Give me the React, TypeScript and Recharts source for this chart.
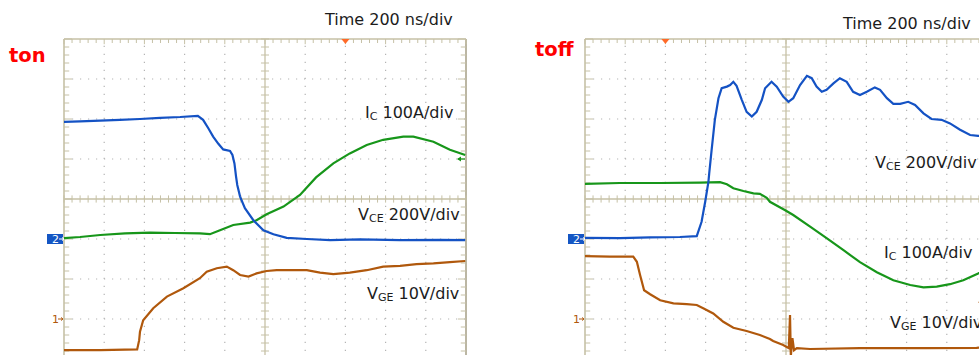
import React from 'react';
import { LineChart, Line, XAxis, YAxis, ReferenceLine, ReferenceDot } from 'recharts';

// ---- Data (time in divisions of 200 ns, amplitude in screen divisions, 0 = centre line) ----
// Turn-on (ton)
const tonVceTime = [0, 0.4, 0.9, 1.39, 1.89, 2.39, 2.89, 3.33, 3.46, 3.59, 3.71, 3.84, 3.96, 4.13, 4.19, 4.24, 4.28, 4.31, 4.38, 4.5, 4.71, 4.96, 5.21, 5.54, 6.04, 6.62, 7.36, 8.36, 9.35, 9.98];
const tonVceDiv = [1.93, 1.94, 1.96, 1.98, 2.0, 2.03, 2.05, 2.08, 1.98, 1.77, 1.56, 1.38, 1.24, 1.2, 1.1, 0.89, 0.56, 0.35, 0.06, -0.23, -0.53, -0.78, -0.88, -0.97, -1.0, -1.03, -1.01, -1.03, -1.02, -1.03];
const tonIcTime = [0, 0.4, 0.9, 1.52, 2.14, 2.76, 3.38, 3.63, 3.88, 4.21, 4.63, 4.79, 5.04, 5.46, 5.87, 6.27, 6.7, 7.11, 7.53, 7.94, 8.44, 8.69, 9.19, 9.6, 9.98];
const tonIcDiv = [-0.98, -0.95, -0.9, -0.86, -0.84, -0.85, -0.86, -0.88, -0.78, -0.65, -0.59, -0.53, -0.38, -0.19, 0.1, 0.54, 0.89, 1.14, 1.35, 1.48, 1.56, 1.56, 1.43, 1.23, 1.1];
const tonVgeTime = [0, 0.9, 1.82, 1.87, 1.89, 1.97, 2.22, 2.56, 2.97, 3.38, 3.55, 3.8, 4.05, 4.21, 4.38, 4.59, 4.79, 5.04, 5.29, 5.7, 6.04, 6.37, 6.7, 7.11, 7.53, 7.94, 8.36, 8.77, 9.19, 9.6, 9.98];
const tonVgeDiv = [-3.78, -3.78, -3.76, -3.53, -3.32, -3.03, -2.73, -2.44, -2.23, -1.98, -1.82, -1.73, -1.69, -1.78, -1.9, -1.94, -1.86, -1.8, -1.78, -1.78, -1.78, -1.84, -1.88, -1.84, -1.78, -1.69, -1.67, -1.63, -1.61, -1.58, -1.55];

// Turn-off (toff)
const toffVceTime = [0, 0.87, 1.62, 2.36, 2.78, 2.9, 2.99, 3.07, 3.09, 3.15, 3.23, 3.32, 3.4, 3.53, 3.61, 3.69, 3.77, 3.9, 4.02, 4.15, 4.27, 4.4, 4.48, 4.64, 4.77, 4.93, 5.06, 5.18, 5.35, 5.52, 5.64, 5.76, 5.89, 6.01, 6.18, 6.34, 6.51, 6.67, 6.84, 7.01, 7.21, 7.34, 7.51, 7.67, 7.84, 8.04, 8.21, 8.42, 8.62, 8.87, 9.08, 9.33, 9.58, 9.78, 10];
const toffVceDiv = [-0.97, -0.98, -0.96, -0.95, -0.93, -0.57, -0.07, 0.43, 0.64, 1.23, 1.98, 2.52, 2.77, 2.81, 2.85, 2.93, 2.83, 2.48, 2.18, 2.06, 2.18, 2.48, 2.77, 2.93, 2.81, 2.56, 2.43, 2.52, 2.85, 3.08, 3.02, 2.81, 2.68, 2.73, 2.89, 3.02, 2.93, 2.68, 2.6, 2.68, 2.79, 2.73, 2.52, 2.38, 2.38, 2.43, 2.35, 2.14, 2.0, 1.98, 1.89, 1.73, 1.6, 1.58, 1.55];
const toffIcTime = [0, 0.87, 1.87, 2.86, 3.36, 3.53, 3.69, 3.94, 4.19, 4.35, 4.52, 4.6, 4.98, 5.18, 5.6, 6.01, 6.43, 6.84, 7.26, 7.67, 8.09, 8.42, 8.75, 9.08, 9.41, 9.78, 10];
const toffIcDiv = [0.38, 0.4, 0.4, 0.41, 0.42, 0.37, 0.27, 0.2, 0.14, 0.13, 0.03, -0.07, -0.28, -0.4, -0.69, -0.98, -1.28, -1.58, -1.83, -2.03, -2.15, -2.21, -2.19, -2.13, -2.03, -1.86, -1.73];
const toffVgeTime = [0, 0.62, 1.2, 1.29, 1.37, 1.47, 1.62, 1.87, 2.2, 2.53, 2.78, 2.94, 3.19, 3.44, 3.69, 4.02, 4.35, 4.6, 4.68, 4.93, 5.07, 5.1, 5.12, 5.16, 5.2, 5.27, 5.6, 6.84, 8.5, 9.74, 10];
const toffVgeDiv = [-1.43, -1.44, -1.44, -1.57, -1.9, -2.28, -2.38, -2.53, -2.61, -2.63, -2.65, -2.73, -2.86, -3.07, -3.22, -3.3, -3.4, -3.5, -3.55, -3.65, -3.73, -2.9, -3.93, -3.48, -3.78, -3.73, -3.75, -3.73, -3.73, -3.72, -3.71];

// Channel offset markers (screen divisions) and trigger positions
const markerLevels = [-3, -1];
const tonTrigger = 7;
const toffTrigger = 2;

const BLUE = '#1452c4';
const GREEN = '#17961a';
const BROWN = '#b0580c';
const GRAT = '#c6c1a6';
const DOT = '#b4b4b4';
const FONT = '"DejaVu Sans", Verdana, sans-serif';

const zip = (t: number[], v: number[]) => t.map((x, i) => ({ t: x, v: v[i] }));

const range = (a: number, b: number, step: number) => {
  const out: number[] = [];
  for (let i = 0; a + i * step <= b + 1e-9; i++) out.push(Math.round((a + i * step) * 100) / 100);
  return out;
};

const ChannelTick = (props: any) => {
  const { x, y, payload } = props;
  if (payload.value === -1) {
    return (
      <g>
        <rect x={x - 17} y={y - 5} width={16} height={10} fill="#1456c4" />
        <text x={x - 12} y={y + 4} fontSize={11} fill="#fff" fontFamily={FONT}>2</text>
        <line x1={x - 5} y1={y} x2={x - 1} y2={y} stroke="#fff" strokeWidth={1} />
        <path d={`M${x - 2},${y - 1.5} L${x},${y} L${x - 2},${y + 1.5}`} stroke="#fff" fill="none" strokeWidth={1} />
      </g>
    );
  }
  return (
    <g>
      <text x={x - 12} y={y + 4} fontSize={11} fill={BROWN} fontFamily={FONT}>1</text>
      <line x1={x - 6} y1={y} x2={x - 1} y2={y} stroke={BROWN} strokeWidth={1} />
      <path d={`M${x - 3},${y - 1.5} L${x - 1},${y} L${x - 3},${y + 1.5}`} stroke={BROWN} fill="none" strokeWidth={1} />
    </g>
  );
};

const Trigger = (props: any) => {
  const { cx, cy } = props;
  return <path d={`M${cx - 4},${cy} L${cx + 4},${cy} L${cx},${cy + 5} Z`} fill="#ff6a28" />;
};

const makeArrow = (color: string) => (props: any) => {
  const { cx, cy } = props;
  return (
    <g>
      <line x1={cx - 8} y1={cy} x2={cx - 1} y2={cy} stroke={color} strokeWidth={1.2} />
      <path d={`M${cx - 5},${cy - 2.5} L${cx - 9},${cy} L${cx - 5},${cy + 2.5} Z`} fill={color} />
    </g>
  );
};

function graticule() {
  const els: React.ReactNode[] = [];
  const minorX = range(0, 10, 0.2);
  const minorY = range(-4, 4, 0.2);
  // dotted major grid
  [1, 2, 3, 4, 6, 7, 8, 9].forEach((v) =>
    els.push(<ReferenceLine key={`gx${v}`} x={v} stroke={DOT} strokeWidth={1.2} strokeDasharray="1.2 6.8" />)
  );
  [-3, -2, -1, 1, 2, 3].forEach((v) =>
    els.push(<ReferenceLine key={`gy${v}`} y={v} stroke={DOT} strokeWidth={1.2} strokeDasharray="1.2 6.8" />)
  );
  // center cross
  els.push(<ReferenceLine key="cx" x={5} stroke={GRAT} strokeWidth={1.3} />);
  els.push(<ReferenceLine key="cy" y={0} stroke={GRAT} strokeWidth={1.3} />);
  // border
  els.push(<ReferenceLine key="bl" x={0} stroke={GRAT} strokeWidth={1.6} />);
  els.push(<ReferenceLine key="br" x={10} stroke="#aaa48c" strokeWidth={1.6} />);
  els.push(<ReferenceLine key="bt" y={4} stroke={GRAT} strokeWidth={1.6} />);
  els.push(<ReferenceLine key="bb" y={-4} stroke={GRAT} strokeWidth={1.6} />);
  // minor ticks
  minorX.forEach((v) => {
    const major = Math.abs(v - Math.round(v)) < 1e-6;
    els.push(<ReferenceLine key={`ch${v}`} segment={[{ x: v, y: -0.09 }, { x: v, y: 0.09 }]} stroke={GRAT} strokeWidth={1} />);
    els.push(<ReferenceLine key={`tt${v}`} segment={[{ x: v, y: 4 }, { x: v, y: major ? 3.87 : 3.9 }]} stroke={GRAT} strokeWidth={1} />);
  });
  minorY.forEach((v) => {
    const major = Math.abs(v - Math.round(v)) < 1e-6;
    els.push(<ReferenceLine key={`cv${v}`} segment={[{ x: 4.9, y: v }, { x: 5.1, y: v }]} stroke={GRAT} strokeWidth={1} />);
    els.push(<ReferenceLine key={`lt${v}`} segment={[{ x: 0, y: v }, { x: major ? 0.2 : 0.13, y: v }]} stroke={GRAT} strokeWidth={1} />);
    els.push(<ReferenceLine key={`rt${v}`} segment={[{ x: 10, y: v }, { x: major ? 9.8 : 9.87, y: v }]} stroke={GRAT} strokeWidth={1} />);
  });
  return els;
}

type PanelProps = {
  vce: { t: number; v: number }[];
  ic: { t: number; v: number }[];
  vge: { t: number; v: number }[];
  trigger: number;
  extra?: React.ReactNode;
};

function Panel({ vce, ic, vge, trigger, extra }: PanelProps) {
  return (
    <LineChart width={480} height={360} margin={{ top: 39, right: 14, bottom: 1, left: 0 }}>
      <XAxis type="number" dataKey="t" domain={[0, 10]} hide allowDataOverflow />
      <YAxis
        type="number"
        domain={[-4, 4]}
        ticks={markerLevels}
        interval={0}
        width={64}
        axisLine={false}
        tickLine={false}
        tickSize={0}
        tickMargin={0}
        tick={<ChannelTick />}
        allowDataOverflow
      />
      {graticule()}
      <Line data={vge} dataKey="v" type="linear" stroke={BROWN} strokeWidth={2.2} dot={false} isAnimationActive={false} />
      <Line data={ic} dataKey="v" type="linear" stroke={GREEN} strokeWidth={2.2} dot={false} isAnimationActive={false} />
      <Line data={vce} dataKey="v" type="linear" stroke={BLUE} strokeWidth={2.2} dot={false} isAnimationActive={false} />
      <ReferenceDot x={trigger} y={4} r={4} shape={<Trigger />} ifOverflow="visible" />
      {extra}
    </LineChart>
  );
}

const Label = ({ x, y, main, sub, rest }: { x: number; y: number; main: string; sub: string; rest: string }) => (
  <text x={x} y={y} fontSize={16} fill="#1c1c1c" fontFamily={FONT} style={{ whiteSpace: 'pre' }}>
    <tspan>{main}</tspan>
    <tspan fontSize={11} dy={2}>{sub}</tspan>
    <tspan dy={-2}>{rest}</tspan>
  </text>
);

const GreenArrow = makeArrow(GREEN);
const BrownArrow = makeArrow(BROWN);

export default function App() {
  return (
    <div style={{ position: 'absolute', left: 0, top: 0, width: 979, height: 355, overflow: 'hidden', background: '#fff' }}>
      <div style={{ position: 'absolute', left: 0, top: 0 }}>
        <Panel
          vce={zip(tonVceTime, tonVceDiv)}
          ic={zip(tonIcTime, tonIcDiv)}
          vge={zip(tonVgeTime, tonVgeDiv)}
          trigger={tonTrigger}
          extra={<ReferenceDot x={10} y={1} r={4} shape={<GreenArrow />} ifOverflow="visible" />}
        />
      </div>
      <div style={{ position: 'absolute', left: 521, top: 0 }}>
        <Panel
          vce={zip(toffVceTime, toffVceDiv)}
          ic={zip(toffIcTime, toffIcDiv)}
          vge={zip(toffVgeTime, toffVgeDiv)}
          trigger={toffTrigger}
          extra={<ReferenceDot x={10} y={-2.58} r={4} shape={<BrownArrow />} ifOverflow="visible" />}
        />
      </div>
      <svg width={979} height={355} style={{ position: 'absolute', left: 0, top: 0, pointerEvents: 'none' }}>
        <text x={9} y={62} fontSize={19.5} fontWeight="bold" fill="#ff0000" fontFamily={FONT}>ton</text>
        <text x={535} y={56} fontSize={19.5} fontWeight="bold" fill="#ff0000" fontFamily={FONT}>toff</text>
        <text x={325} y={25} fontSize={16} fill="#1c1c1c" fontFamily={FONT}>Time 200 ns/div</text>
        <text x={843} y={29} fontSize={16} fill="#1c1c1c" fontFamily={FONT}>Time 200 ns/div</text>
        <Label x={365} y={118} main="I" sub="C" rest=" 100A/div" />
        <Label x={358} y={220} main="V" sub="CE" rest=" 200V/div" />
        <Label x={367} y={299} main="V" sub="GE" rest=" 10V/div" />
        <Label x={875} y={168} main="V" sub="CE" rest=" 200V/div" />
        <Label x={884} y={258} main="I" sub="C" rest=" 100A/div" />
        <Label x={890} y={328} main="V" sub="GE" rest=" 10V/div" />
      </svg>
    </div>
  );
}
